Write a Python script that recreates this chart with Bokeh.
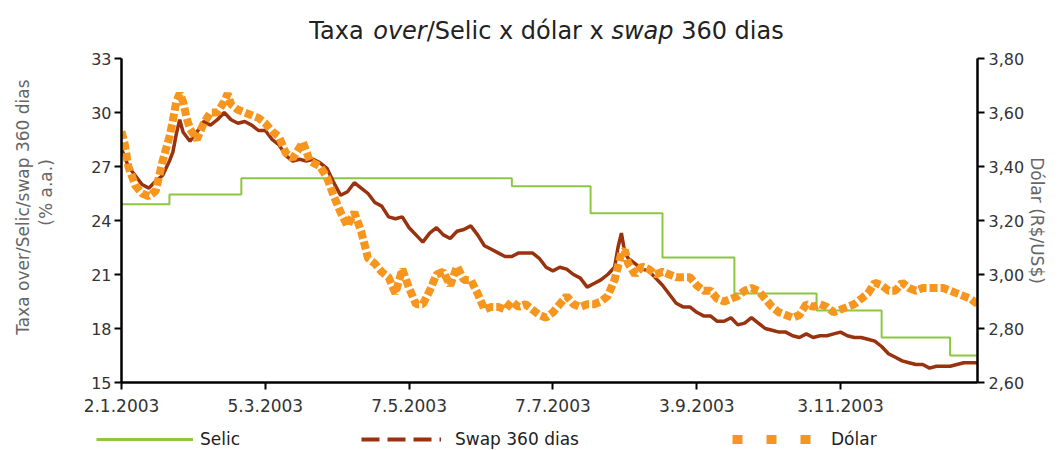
from math import pi
from bokeh.plotting import figure
from bokeh.layouts import column, row
from bokeh.models import (Range1d, LinearAxis, FixedTicker, Label, Legend, LegendItem,
                          CustomJSTickFormatter)
from bokeh.embed import file_html
from bokeh.resources import INLINE

# ---------------- data (x = trading-day index from 2.1.2003) ----------------
selic_idx = [0, 14, 35, 114, 137, 158, 179, 203, 222, 242, 250]
selic_val = [24.9, 25.45, 26.35, 25.9, 24.4, 21.95, 19.95, 19.0, 17.5, 16.5, 16.5]

swap_idx = [0, 2, 4, 6, 8, 10, 12, 14, 15, 16, 17, 18, 20, 22, 24, 26, 28, 30, 32, 34,
            36, 38, 40, 42, 44, 46, 48, 50, 52, 54, 56, 58, 60, 62, 64, 66, 68, 70, 72,
            74, 76, 78, 80, 82, 84, 86, 88, 90, 92, 94, 96, 98, 100, 102, 104, 106, 108,
            110, 112, 114, 116, 118, 120, 122, 124, 126, 128, 130, 132, 134, 136, 138,
            140, 142, 144, 145, 146, 147, 148, 150, 152, 154, 156, 158, 160, 162, 164,
            166, 168, 170, 172, 174, 176, 178, 180, 182, 184, 186, 188, 190, 192, 194,
            196, 198, 200, 202, 204, 206, 208, 210, 212, 214, 216, 218, 220, 222, 224,
            226, 228, 230, 232, 234, 236, 238, 240, 242, 244, 246, 248, 250]
swap_val = [28.0, 27.0, 26.5, 26.0, 25.8, 26.2, 26.5, 27.3, 27.8, 28.8, 29.6, 28.9, 28.4,
            28.9, 29.5, 29.3, 29.6, 30.0, 29.6, 29.4, 29.5, 29.3, 29.0, 29.0, 28.5, 28.2,
            27.6, 27.3, 27.4, 27.3, 27.4, 27.2, 26.9, 26.1, 25.4, 25.6, 26.1, 25.8, 25.5,
            25.0, 24.8, 24.2, 24.1, 24.2, 23.6, 23.2, 22.8, 23.3, 23.6, 23.2, 23.0, 23.4,
            23.5, 23.7, 23.2, 22.6, 22.4, 22.2, 22.0, 22.0, 22.2, 22.2, 22.2, 21.9, 21.4,
            21.2, 21.4, 21.3, 21.0, 20.8, 20.3, 20.5, 20.7, 21.0, 21.4, 22.5, 23.3, 22.2,
            21.9, 21.6, 21.3, 21.2, 20.8, 20.4, 19.9, 19.4, 19.2, 19.2, 18.9, 18.7, 18.7,
            18.4, 18.4, 18.6, 18.2, 18.3, 18.6, 18.3, 18.0, 17.9, 17.8, 17.8, 17.6, 17.5,
            17.7, 17.5, 17.6, 17.6, 17.7, 17.8, 17.6, 17.5, 17.5, 17.4, 17.3, 17.0, 16.6,
            16.4, 16.2, 16.1, 16.0, 16.0, 15.8, 15.9, 15.9, 15.9, 16.0, 16.1, 16.1, 16.1]

dolar_idx = [0, 1, 2, 4, 6, 8, 10, 12, 14, 15, 16, 17, 18, 19, 20, 22, 24, 26, 28, 30,
             31, 32, 34, 36, 38, 40, 42, 44, 46, 48, 50, 52, 53, 55, 58, 60, 62, 64, 66,
             68, 70, 72, 74, 76, 78, 80, 82, 84, 86, 88, 90, 92, 94, 96, 98, 100, 102,
             104, 106, 108, 110, 112, 114, 116, 118, 120, 122, 124, 126, 128, 130, 132,
             134, 136, 138, 140, 142, 144, 146, 147, 148, 150, 152, 154, 156, 158, 160,
             162, 164, 166, 168, 170, 172, 174, 176, 178, 180, 182, 184, 186, 188, 190,
             192, 194, 196, 198, 200, 202, 204, 206, 208, 210, 212, 214, 216, 218, 220,
             222, 224, 226, 228, 230, 232, 234, 236, 238, 240, 242, 244, 246, 248, 250]
dolar_val = [3.53, 3.48, 3.40, 3.33, 3.30, 3.29, 3.31, 3.42, 3.51, 3.57, 3.64, 3.67, 3.64,
             3.58, 3.54, 3.50, 3.56, 3.60, 3.60, 3.64, 3.67, 3.63, 3.61, 3.60, 3.59, 3.58,
             3.56, 3.53, 3.51, 3.45, 3.43, 3.47, 3.49, 3.42, 3.40, 3.36, 3.29, 3.23, 3.18,
             3.23, 3.16, 3.06, 3.04, 3.01, 2.99, 2.93, 3.02, 2.95, 2.89, 2.89, 2.94, 3.00,
             3.01, 2.96, 3.03, 2.98, 2.98, 2.93, 2.87, 2.88, 2.88, 2.87, 2.90, 2.88, 2.89,
             2.87, 2.85, 2.84, 2.86, 2.89, 2.92, 2.89, 2.88, 2.89, 2.89, 2.90, 2.92, 2.98,
             3.08, 3.09, 3.04, 3.00, 3.03, 3.02, 3.00, 3.01, 3.00, 2.99, 2.99, 2.99, 2.96,
             2.94, 2.94, 2.91, 2.90, 2.91, 2.92, 2.94, 2.95, 2.94, 2.91, 2.88, 2.86, 2.85,
             2.84, 2.85, 2.89, 2.88, 2.89, 2.88, 2.86, 2.87, 2.88, 2.89, 2.91, 2.93, 2.97,
             2.96, 2.94, 2.94, 2.97, 2.95, 2.94, 2.95, 2.95, 2.95, 2.95, 2.94, 2.93, 2.92,
             2.91, 2.89]

x_tick_idx = [0, 42, 84, 126, 168, 210]
x_tick_labels = ["2.1.2003", "5.3.2003", "7.5.2003", "7.7.2003", "3.9.2003", "3.11.2003"]
left_ticks = [15, 18, 21, 24, 27, 30, 33]
right_ticks = [2.6, 2.8, 3.0, 3.2, 3.4, 3.6, 3.8]
right_tick_labels = ["2,60", "2,80", "3,00", "3,20", "3,40", "3,60", "3,80"]

# ---------------- styles / layout ----------------
GREEN = "#8DC63F"
BROWN = "#99330F"
ORANGE = "#F7961E"
FONT = "DejaVu Sans"
W, H = 1063, 450
TITLE_H, LEG_H, LEFT_W = 50, 25, 60
MAIN_H = H - TITLE_H - LEG_H
FL, FR, FT, FB = 121, 977, 58, 382     # frame edges in page pixels
XMAX = 250
YMIN, YMAX = 15, 33

# DejaVu Sans advance widths (units per em = 2048)
CW = {" ": 651, "(": 799, ")": 799, "%": 1946, ".": 651, "/": 690, "$": 1303,
      "D": 1577, "R": 1423, "S": 1300, "T": 1251, "U": 1499, "a": 1255, "c": 1126,
      "d": 1300, "e": 1260, "i": 569, "l": 569, "o": 1253, "ó": 1253, "p": 1300,
      "r": 842, "s": 1067, "v": 1212, "w": 1675, "x": 1212}


def tw(s, size):
    return sum(CW.get(c, 1303) for c in s) / 2048 * size


def layout_parts(parts, size):
    """Return (centre offset, stripped text, style) for consecutive text parts."""
    out, pos = [], 0.0
    for s, st in parts:
        lead = len(s) - len(s.lstrip(" "))
        core = s.strip(" ")
        start = pos + tw(" " * lead, size)
        out.append((start + tw(core, size) / 2, core, st))
        pos += tw(s, size)
    return out, pos


def blank_fig(w, h):
    f = figure(width=w, height=h, output_backend="svg", toolbar_location=None,
               x_range=Range1d(0, w), y_range=Range1d(0, h),
               x_axis_location=None, y_axis_location=None,
               min_border_left=0, min_border_right=0, min_border_top=0, min_border_bottom=0)
    f.outline_line_color = None
    f.xgrid.visible = False
    f.ygrid.visible = False
    f.border_fill_color = "white"
    f.background_fill_color = "white"
    return f


# ---------------- main chart ----------------
p = figure(width=W - LEFT_W, height=MAIN_H, output_backend="svg", toolbar_location=None,
           x_range=Range1d(0, XMAX), y_range=Range1d(YMIN, YMAX),
           min_border_left=FL - LEFT_W, min_border_right=W - FR,
           min_border_top=FT - TITLE_H, min_border_bottom=TITLE_H + MAIN_H - FB)
p.extra_y_ranges = {"dolar": Range1d(right_ticks[0], right_ticks[-1])}
p.outline_line_color = None
p.xgrid.visible = False
p.ygrid.visible = False
p.background_fill_color = "white"
p.border_fill_color = "white"


def style_axis(ax, size):
    ax.axis_line_color = "black"
    ax.axis_line_width = 2.5
    ax.major_tick_line_color = "black"
    ax.major_tick_line_width = 2
    ax.major_tick_out = 7
    ax.major_tick_in = 0
    ax.minor_tick_line_color = None
    ax.major_label_text_font = FONT
    ax.major_label_text_font_size = size
    ax.major_label_text_color = "#333333"


xa = p.xaxis[0]
style_axis(xa, "17px")
xa.ticker = FixedTicker(ticks=x_tick_idx)
xa.major_label_overrides = dict(zip(x_tick_idx, x_tick_labels))
xa.major_label_standoff = 9

ya = p.yaxis[0]
style_axis(ya, "16px")
ya.ticker = FixedTicker(ticks=left_ticks)
ya.major_label_standoff = 3

ra = LinearAxis(y_range_name="dolar")
style_axis(ra, "16px")
ra.ticker = FixedTicker(ticks=right_ticks)
ra.formatter = CustomJSTickFormatter(args=dict(vals=right_ticks, labs=right_tick_labels), code="""
    for (let i = 0; i < vals.length; i++) { if (Math.abs(vals[i] - tick) < 1e-6) return labs[i]; }
    return tick.toFixed(2).replace('.', ',');
""")
ra.major_label_standoff = 4
ra.axis_label = "Dólar (R$/US$)"
ra.axis_label_text_font = FONT
ra.axis_label_text_font_style = "normal"
ra.axis_label_text_font_size = "17px"
ra.axis_label_text_color = "#666666"
ra.axis_label_standoff = 0
p.add_layout(ra, "right")

p.step(selic_idx, selic_val, mode="after", line_color=GREEN, line_width=2)
p.line(swap_idx, swap_val, line_color=BROWN, line_width=3.5)
p.line(dolar_idx, dolar_val, y_range_name="dolar", line_color=ORANGE, line_width=8,
       line_dash="8 3")

# ---------------- title strip (mixed italic) ----------------
tf = blank_fig(W, TITLE_H)
title_parts = [("Taxa ", "normal"), ("over", "italic"), ("/Selic x dólar x ", "normal"),
               ("swap", "italic"), (" 360 dias", "normal")]
TS = 24
segs, total = layout_parts(title_parts, TS)
x0 = 545 - total / 2
for c, s, st in segs:
    tf.add_layout(Label(x=x0 + c, y=TITLE_H - 30, text=s, text_font=FONT, text_font_style=st,
                        text_font_size=f"{TS}px", text_color="#222222",
                        text_align="center", text_baseline="alphabetic"))

# ---------------- left axis title strip (rotated) ----------------
lf = blank_fig(LEFT_W, MAIN_H)
LS = 17
lf.add_layout(Label(x=22, y=TITLE_H + MAIN_H - 222, text="Taxa over/Selic/swap 360 dias",
                    text_font=FONT, text_font_size=f"{LS}px", text_color="#666666",
                    angle=pi / 2, text_align="center", text_baseline="middle"))
lf.add_layout(Label(x=45, y=TITLE_H + MAIN_H - 205, text="(% a.a.)", text_font=FONT,
                    text_font_size=f"{LS}px", text_color="#666666", angle=pi / 2,
                    text_align="center", text_baseline="middle"))

# ---------------- legend strip ----------------
gf = blank_fig(W, LEG_H)
OFF = [-50, -40]   # legend-key renderers: kept outside the visible range
lg_selic = gf.line(OFF, OFF, line_color=GREEN, line_width=3)
lg_swap = gf.line(OFF, OFF, line_color=BROWN, line_width=4, line_dash="18 8")
lg_dolar = gf.line(OFF, OFF, line_color=ORANGE, line_width=9, line_dash="10 24")
for r, lab, xs, gw, st in [(lg_selic, "Selic", 96, 97, 7),
                           (lg_swap, "Swap 360 dias", 361, 80, 14),
                           (lg_dolar, "Dólar", 732, 90, 9)]:
    gf.add_layout(Legend(items=[LegendItem(label=lab, renderers=[r])], location=(xs, 1),
                         orientation="horizontal", glyph_width=gw, glyph_height=18,
                         label_height=18, label_standoff=st, padding=0, margin=0,
                         border_line_color=None, background_fill_alpha=0,
                         label_text_font=FONT, label_text_font_size="17px",
                         label_text_color="#222222"))

layout = column(tf, row(lf, p, spacing=0), gf, spacing=0)
open("out.html", "w").write(file_html(layout, INLINE))
